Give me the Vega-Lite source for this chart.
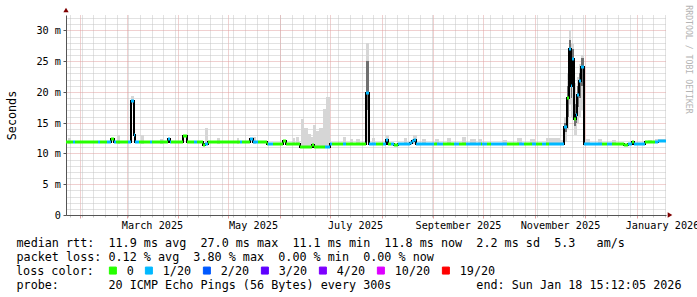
{
  "$schema": "https://vega.github.io/schema/vega-lite/v6.json",
  "width": 600,
  "height": 200,
  "autosize": {"type": "none"},
  "padding": {"left": 66, "top": 15, "right": 31, "bottom": 82},
  "background": "white",
  "config": {"view": {"stroke": null}, "font": "DejaVu Sans Mono"},
  "resolve": {"axis": {"x": "independent", "y": "independent"}},
  "datasets": {
    "median": [
      {"t0":"2025-01-23T15:12Z","t1":"2025-01-28T00:00Z","v":11.8,"loss":"0"},
      {"t0":"2025-01-28T00:00Z","t1":"2025-01-29T00:00Z","v":11.8,"loss":"1/20"},
      {"t0":"2025-01-29T00:00Z","t1":"2025-02-12T00:00Z","v":11.8,"loss":"0"},
      {"t0":"2025-02-12T00:00Z","t1":"2025-02-13T00:00Z","v":11.8,"loss":"1/20"},
      {"t0":"2025-02-13T00:00Z","t1":"2025-02-17T06:00Z","v":11.8,"loss":"0"},
      {"t0":"2025-02-17T06:00Z","t1":"2025-02-19T12:00Z","v":11.8,"loss":"1/20"},
      {"t0":"2025-02-19T12:00Z","t1":"2025-02-21T10:00Z","v":12.4,"loss":"0"},
      {"t0":"2025-02-21T10:00Z","t1":"2025-02-22T15:00Z","v":11.8,"loss":"1/20"},
      {"t0":"2025-02-22T15:00Z","t1":"2025-03-01T20:00Z","v":11.8,"loss":"0"},
      {"t0":"2025-03-01T20:00Z","t1":"2025-03-03T15:00Z","v":11.8,"loss":"1/20"},
      {"t0":"2025-03-03T15:00Z","t1":"2025-03-05T10:00Z","v":18.6,"loss":"1/20"},
      {"t0":"2025-03-05T10:00Z","t1":"2025-03-06T08:00Z","v":13.0,"loss":"1/20"},
      {"t0":"2025-03-06T08:00Z","t1":"2025-03-08T10:00Z","v":11.8,"loss":"1/20"},
      {"t0":"2025-03-08T10:00Z","t1":"2025-03-15T00:00Z","v":11.8,"loss":"0"},
      {"t0":"2025-03-15T00:00Z","t1":"2025-03-16T06:00Z","v":11.8,"loss":"1/20"},
      {"t0":"2025-03-16T06:00Z","t1":"2025-03-25T13:00Z","v":11.8,"loss":"0"},
      {"t0":"2025-03-25T13:00Z","t1":"2025-03-26T18:00Z","v":12.3,"loss":"1/20"},
      {"t0":"2025-03-26T18:00Z","t1":"2025-03-27T15:00Z","v":11.8,"loss":"1/20"},
      {"t0":"2025-03-27T15:00Z","t1":"2025-04-03T20:00Z","v":11.8,"loss":"0"},
      {"t0":"2025-04-03T20:00Z","t1":"2025-04-06T06:00Z","v":12.9,"loss":"0"},
      {"t0":"2025-04-06T06:00Z","t1":"2025-04-10T10:00Z","v":11.8,"loss":"0"},
      {"t0":"2025-04-10T10:00Z","t1":"2025-04-12T06:00Z","v":11.8,"loss":"1/20"},
      {"t0":"2025-04-12T06:00Z","t1":"2025-04-16T03:00Z","v":11.8,"loss":"0"},
      {"t0":"2025-04-16T03:00Z","t1":"2025-04-17T00:00Z","v":11.3,"loss":"0"},
      {"t0":"2025-04-17T00:00Z","t1":"2025-04-18T13:00Z","v":11.5,"loss":"1/20"},
      {"t0":"2025-04-18T13:00Z","t1":"2025-05-08T00:00Z","v":11.8,"loss":"0"},
      {"t0":"2025-05-08T00:00Z","t1":"2025-05-09T06:00Z","v":11.8,"loss":"1/20"},
      {"t0":"2025-05-09T06:00Z","t1":"2025-05-14T08:00Z","v":11.8,"loss":"0"},
      {"t0":"2025-05-14T08:00Z","t1":"2025-05-15T20:00Z","v":12.35,"loss":"1/20"},
      {"t0":"2025-05-15T20:00Z","t1":"2025-05-18T20:00Z","v":11.8,"loss":"1/20"},
      {"t0":"2025-05-18T20:00Z","t1":"2025-05-24T01:00Z","v":11.8,"loss":"0"},
      {"t0":"2025-05-24T01:00Z","t1":"2025-05-24T20:00Z","v":11.6,"loss":"0"},
      {"t0":"2025-05-24T20:00Z","t1":"2025-05-27T20:00Z","v":11.6,"loss":"1/20"},
      {"t0":"2025-05-27T20:00Z","t1":"2025-06-02T20:00Z","v":11.6,"loss":"0"},
      {"t0":"2025-06-02T20:00Z","t1":"2025-06-04T15:00Z","v":12.05,"loss":"0"},
      {"t0":"2025-06-04T15:00Z","t1":"2025-06-13T00:00Z","v":11.6,"loss":"0"},
      {"t0":"2025-06-13T00:00Z","t1":"2025-06-20T06:00Z","v":11.1,"loss":"0"},
      {"t0":"2025-06-20T06:00Z","t1":"2025-06-21T10:00Z","v":11.45,"loss":"0"},
      {"t0":"2025-06-21T10:00Z","t1":"2025-06-28T00:00Z","v":11.1,"loss":"0"},
      {"t0":"2025-06-28T00:00Z","t1":"2025-07-01T00:00Z","v":11.1,"loss":"1/20"},
      {"t0":"2025-07-01T00:00Z","t1":"2025-07-02T06:00Z","v":11.6,"loss":"1/20"},
      {"t0":"2025-07-02T06:00Z","t1":"2025-07-08T20:00Z","v":11.6,"loss":"0"},
      {"t0":"2025-07-08T20:00Z","t1":"2025-07-10T15:00Z","v":11.6,"loss":"1/20"},
      {"t0":"2025-07-10T15:00Z","t1":"2025-07-22T22:00Z","v":11.6,"loss":"0"},
      {"t0":"2025-07-22T22:00Z","t1":"2025-07-24T10:00Z","v":19.9,"loss":"1/20"},
      {"t0":"2025-07-24T10:00Z","t1":"2025-07-28T15:00Z","v":11.55,"loss":"1/20"},
      {"t0":"2025-07-28T15:00Z","t1":"2025-08-01T20:00Z","v":11.55,"loss":"0"},
      {"t0":"2025-08-01T20:00Z","t1":"2025-08-03T15:00Z","v":11.55,"loss":"1/20"},
      {"t0":"2025-08-03T15:00Z","t1":"2025-08-05T03:00Z","v":12.2,"loss":"1/20"},
      {"t0":"2025-08-05T03:00Z","t1":"2025-08-06T15:00Z","v":11.55,"loss":"0"},
      {"t0":"2025-08-06T15:00Z","t1":"2025-08-08T10:00Z","v":11.55,"loss":"1/20"},
      {"t0":"2025-08-08T10:00Z","t1":"2025-08-10T20:00Z","v":11.3,"loss":"0"},
      {"t0":"2025-08-10T20:00Z","t1":"2025-08-18T00:00Z","v":11.55,"loss":"1/20"},
      {"t0":"2025-08-18T00:00Z","t1":"2025-08-19T06:00Z","v":11.75,"loss":"1/20"},
      {"t0":"2025-08-19T06:00Z","t1":"2025-08-20T10:00Z","v":11.95,"loss":"1/20"},
      {"t0":"2025-08-20T10:00Z","t1":"2025-08-21T22:00Z","v":12.2,"loss":"1/20"},
      {"t0":"2025-08-21T22:00Z","t1":"2025-09-01T10:00Z","v":11.55,"loss":"1/20"},
      {"t0":"2025-09-01T10:00Z","t1":"2025-09-03T06:00Z","v":11.55,"loss":"0"},
      {"t0":"2025-09-03T06:00Z","t1":"2025-09-06T20:00Z","v":11.55,"loss":"1/20"},
      {"t0":"2025-09-06T20:00Z","t1":"2025-09-13T10:00Z","v":11.55,"loss":"0"},
      {"t0":"2025-09-13T10:00Z","t1":"2025-09-16T10:00Z","v":11.55,"loss":"1/20"},
      {"t0":"2025-09-16T10:00Z","t1":"2025-09-20T15:00Z","v":11.55,"loss":"0"},
      {"t0":"2025-09-20T15:00Z","t1":"2025-09-29T15:00Z","v":11.5,"loss":"1/20"},
      {"t0":"2025-09-29T15:00Z","t1":"2025-09-30T06:00Z","v":11.5,"loss":"0"},
      {"t0":"2025-09-30T06:00Z","t1":"2025-10-03T06:00Z","v":11.5,"loss":"1/20"},
      {"t0":"2025-10-03T06:00Z","t1":"2025-10-05T15:00Z","v":11.5,"loss":"0"},
      {"t0":"2025-10-05T15:00Z","t1":"2025-10-15T06:00Z","v":11.5,"loss":"1/20"},
      {"t0":"2025-10-15T06:00Z","t1":"2025-10-22T10:00Z","v":11.5,"loss":"0"},
      {"t0":"2025-10-22T10:00Z","t1":"2025-10-25T10:00Z","v":11.5,"loss":"1/20"},
      {"t0":"2025-10-25T10:00Z","t1":"2025-10-30T06:00Z","v":11.5,"loss":"0"},
      {"t0":"2025-10-30T06:00Z","t1":"2025-11-01T15:00Z","v":11.5,"loss":"1/20"},
      {"t0":"2025-11-01T15:00Z","t1":"2025-11-05T06:00Z","v":11.5,"loss":"0"},
      {"t0":"2025-11-05T06:00Z","t1":"2025-11-07T15:00Z","v":11.5,"loss":"1/20"},
      {"t0":"2025-11-07T15:00Z","t1":"2025-11-09T10:00Z","v":11.5,"loss":"0"},
      {"t0":"2025-11-09T10:00Z","t1":"2025-11-18T15:00Z","v":11.5,"loss":"1/20"},
      {"t0":"2025-11-18T15:00Z","t1":"2025-11-20T01:00Z","v":14.3,"loss":"1/20"},
      {"t0":"2025-11-20T01:00Z","t1":"2025-11-21T06:00Z","v":19.0,"loss":"0"},
      {"t0":"2025-11-21T06:00Z","t1":"2025-11-22T11:00Z","v":27.0,"loss":"1/20"},
      {"t0":"2025-11-22T11:00Z","t1":"2025-11-23T10:00Z","v":20.9,"loss":"1/20"},
      {"t0":"2025-11-23T10:00Z","t1":"2025-11-24T10:00Z","v":25.4,"loss":"1/20"},
      {"t0":"2025-11-24T10:00Z","t1":"2025-11-25T11:00Z","v":15.6,"loss":"0"},
      {"t0":"2025-11-25T11:00Z","t1":"2025-11-26T10:00Z","v":16.2,"loss":"1/20"},
      {"t0":"2025-11-26T10:00Z","t1":"2025-11-27T10:00Z","v":19.5,"loss":"1/20"},
      {"t0":"2025-11-27T10:00Z","t1":"2025-11-28T11:00Z","v":21.7,"loss":"1/20"},
      {"t0":"2025-11-28T11:00Z","t1":"2025-11-30T15:00Z","v":24.1,"loss":"1/20"},
      {"t0":"2025-11-30T15:00Z","t1":"2025-12-11T06:00Z","v":11.55,"loss":"1/20"},
      {"t0":"2025-12-11T06:00Z","t1":"2025-12-14T06:00Z","v":11.55,"loss":"0"},
      {"t0":"2025-12-14T06:00Z","t1":"2025-12-17T06:00Z","v":11.55,"loss":"1/20"},
      {"t0":"2025-12-17T06:00Z","t1":"2025-12-24T10:00Z","v":11.55,"loss":"0"},
      {"t0":"2025-12-24T10:00Z","t1":"2025-12-26T20:00Z","v":11.35,"loss":"0"},
      {"t0":"2025-12-26T20:00Z","t1":"2025-12-29T06:00Z","v":11.5,"loss":"1/20"},
      {"t0":"2025-12-29T06:00Z","t1":"2025-12-30T10:00Z","v":11.8,"loss":"0"},
      {"t0":"2025-12-30T10:00Z","t1":"2026-01-06T00:00Z","v":11.55,"loss":"1/20"},
      {"t0":"2026-01-06T00:00Z","t1":"2026-01-12T00:00Z","v":11.85,"loss":"0"},
      {"t0":"2026-01-12T00:00Z","t1":"2026-01-13T20:00Z","v":11.85,"loss":"1/20"},
      {"t0":"2026-01-13T20:00Z","t1":"2026-01-18T12:00Z","v":11.95,"loss":"1/20"}
    ],
    "smoke": [
      {"t0":"2025-01-24T20:00Z","t1":"2025-01-26T15:00Z","lo":11.6,"hi":12.55},
      {"t0":"2025-02-23T06:00Z","t1":"2025-02-24T18:00Z","lo":11.6,"hi":13.0},
      {"t0":"2025-03-03T15:00Z","t1":"2025-03-05T10:00Z","lo":17.8,"hi":19.3},
      {"t0":"2025-03-09T15:00Z","t1":"2025-03-11T10:00Z","lo":11.6,"hi":13.0},
      {"t0":"2025-03-21T00:00Z","t1":"2025-03-22T20:00Z","lo":11.6,"hi":12.3},
      {"t0":"2025-04-17T00:00Z","t1":"2025-04-18T13:00Z","lo":11.4,"hi":14.1},
      {"t0":"2025-04-24T06:00Z","t1":"2025-04-26T00:00Z","lo":11.6,"hi":12.45},
      {"t0":"2025-05-06T06:00Z","t1":"2025-05-07T10:00Z","lo":11.6,"hi":12.45},
      {"t0":"2025-05-15T20:00Z","t1":"2025-05-17T15:00Z","lo":11.6,"hi":12.6},
      {"t0":"2025-06-08T20:00Z","t1":"2025-06-10T00:00Z","lo":11.5,"hi":12.5},
      {"t0":"2025-06-10T15:00Z","t1":"2025-06-12T10:00Z","lo":11.5,"hi":12.7},
      {"t0":"2025-06-13T15:00Z","t1":"2025-06-15T10:00Z","lo":11.0,"hi":15.6},
      {"t0":"2025-06-15T10:00Z","t1":"2025-06-17T20:00Z","lo":11.0,"hi":14.2},
      {"t0":"2025-06-17T20:00Z","t1":"2025-06-19T15:00Z","lo":11.0,"hi":13.2},
      {"t0":"2025-06-19T15:00Z","t1":"2025-06-20T20:00Z","lo":11.0,"hi":12.6},
      {"t0":"2025-06-20T20:00Z","t1":"2025-06-22T15:00Z","lo":11.0,"hi":14.6},
      {"t0":"2025-06-22T15:00Z","t1":"2025-06-24T10:00Z","lo":11.0,"hi":13.6},
      {"t0":"2025-06-24T10:00Z","t1":"2025-06-26T20:00Z","lo":11.0,"hi":14.2},
      {"t0":"2025-06-26T20:00Z","t1":"2025-06-28T15:00Z","lo":11.0,"hi":17.2},
      {"t0":"2025-06-28T15:00Z","t1":"2025-06-30T18:00Z","lo":11.0,"hi":19.1},
      {"t0":"2025-06-30T18:00Z","t1":"2025-07-01T15:00Z","lo":11.0,"hi":12.5},
      {"t0":"2025-07-08T20:00Z","t1":"2025-07-10T15:00Z","lo":11.5,"hi":12.6},
      {"t0":"2025-07-13T00:00Z","t1":"2025-07-14T20:00Z","lo":11.5,"hi":12.4},
      {"t0":"2025-07-16T15:00Z","t1":"2025-07-19T00:00Z","lo":11.5,"hi":12.3},
      {"t0":"2025-07-22T22:00Z","t1":"2025-07-24T10:00Z","lo":12.0,"hi":28.0},
      {"t0":"2025-07-26T06:00Z","t1":"2025-07-28T00:00Z","lo":11.5,"hi":12.45},
      {"t0":"2025-08-03T15:00Z","t1":"2025-08-05T10:00Z","lo":11.5,"hi":13.0},
      {"t0":"2025-08-14T10:00Z","t1":"2025-08-16T06:00Z","lo":11.5,"hi":12.5},
      {"t0":"2025-08-19T20:00Z","t1":"2025-08-22T06:00Z","lo":11.5,"hi":13.0},
      {"t0":"2025-08-25T06:00Z","t1":"2025-08-27T15:00Z","lo":11.5,"hi":12.3},
      {"t0":"2025-09-02T00:00Z","t1":"2025-09-04T10:00Z","lo":11.5,"hi":12.4},
      {"t0":"2025-09-09T06:00Z","t1":"2025-09-11T15:00Z","lo":11.5,"hi":12.5},
      {"t0":"2025-09-18T06:00Z","t1":"2025-09-20T15:00Z","lo":11.5,"hi":12.6},
      {"t0":"2025-09-23T00:00Z","t1":"2025-09-26T15:00Z","lo":11.5,"hi":12.3},
      {"t0":"2025-09-27T20:00Z","t1":"2025-09-30T06:00Z","lo":11.5,"hi":12.3},
      {"t0":"2025-10-12T20:00Z","t1":"2025-10-15T06:00Z","lo":11.5,"hi":12.2},
      {"t0":"2025-10-21T06:00Z","t1":"2025-10-24T06:00Z","lo":11.5,"hi":12.55},
      {"t0":"2025-10-29T00:00Z","t1":"2025-11-01T00:00Z","lo":11.5,"hi":12.3},
      {"t0":"2025-11-07T15:00Z","t1":"2025-11-16T00:00Z","lo":11.5,"hi":12.5},
      {"t0":"2025-11-16T00:00Z","t1":"2025-11-18T15:00Z","lo":11.5,"hi":12.2},
      {"t0":"2025-11-18T15:00Z","t1":"2025-11-20T01:00Z","lo":11.8,"hi":16.0},
      {"t0":"2025-11-20T01:00Z","t1":"2025-11-21T06:00Z","lo":14.0,"hi":23.0},
      {"t0":"2025-11-21T06:00Z","t1":"2025-11-22T11:00Z","lo":18.0,"hi":30.0},
      {"t0":"2025-11-22T11:00Z","t1":"2025-11-23T10:00Z","lo":16.0,"hi":28.0},
      {"t0":"2025-11-23T10:00Z","t1":"2025-11-24T10:00Z","lo":18.0,"hi":27.8},
      {"t0":"2025-11-24T10:00Z","t1":"2025-11-25T11:00Z","lo":13.0,"hi":21.5},
      {"t0":"2025-11-25T11:00Z","t1":"2025-11-26T10:00Z","lo":13.0,"hi":19.5},
      {"t0":"2025-11-26T10:00Z","t1":"2025-11-27T10:00Z","lo":15.0,"hi":22.5},
      {"t0":"2025-11-27T10:00Z","t1":"2025-11-28T11:00Z","lo":16.0,"hi":24.5},
      {"t0":"2025-11-28T11:00Z","t1":"2025-11-30T15:00Z","lo":17.0,"hi":26.0},
      {"t0":"2025-12-01T00:00Z","t1":"2025-12-04T00:00Z","lo":11.5,"hi":12.3},
      {"t0":"2025-12-08T20:00Z","t1":"2025-12-11T06:00Z","lo":11.5,"hi":12.3},
      {"t0":"2025-12-17T06:00Z","t1":"2025-12-19T15:00Z","lo":11.5,"hi":12.2},
      {"t0":"2026-01-07T20:00Z","t1":"2026-01-10T06:00Z","lo":11.8,"hi":12.25},
      {"t0":"2026-01-12T00:00Z","t1":"2026-01-18T12:00Z","lo":11.8,"hi":12.35}
    ],
    "core": [
      {"t0":"2025-07-22T22:00Z","t1":"2025-07-24T10:00Z","lo":17.0,"hi":25.0},
      {"t0":"2025-11-18T15:00Z","t1":"2025-11-20T01:00Z","lo":13.5,"hi":15.0},
      {"t0":"2025-11-20T01:00Z","t1":"2025-11-21T06:00Z","lo":16.0,"hi":21.0},
      {"t0":"2025-11-21T06:00Z","t1":"2025-11-22T11:00Z","lo":22.0,"hi":28.5},
      {"t0":"2025-11-22T11:00Z","t1":"2025-11-23T10:00Z","lo":19.0,"hi":25.0},
      {"t0":"2025-11-23T10:00Z","t1":"2025-11-24T10:00Z","lo":21.0,"hi":27.0},
      {"t0":"2025-11-24T10:00Z","t1":"2025-11-25T11:00Z","lo":14.5,"hi":18.0},
      {"t0":"2025-11-25T11:00Z","t1":"2025-11-26T10:00Z","lo":15.0,"hi":17.5},
      {"t0":"2025-11-26T10:00Z","t1":"2025-11-27T10:00Z","lo":17.5,"hi":21.0},
      {"t0":"2025-11-27T10:00Z","t1":"2025-11-28T11:00Z","lo":19.0,"hi":23.0},
      {"t0":"2025-11-28T11:00Z","t1":"2025-11-30T15:00Z","lo":21.0,"hi":25.5}
    ]
  },
  "layer": [
    {
      "data": {"name": "smoke"},
      "mark": {"type": "rect", "color": "#d6d6d6"},
      "encoding": {
        "x": {"field": "t0", "type": "temporal",
          "scale": {"type": "utc", "round": true, "domain": [{"year":2025,"month":1,"date":23,"hours":15,"minutes":12,"seconds":5,"utc":true},{"year":2026,"month":1,"date":18,"hours":15,"minutes":12,"seconds":5,"utc":true}]},
          "axis": {"orient": "bottom", "tickCount": {"interval": "week", "step": 1}, "grid": true, "gridColor": "#c4c4c4", "gridDash": [1, 1], "gridWidth": 1, "labels": false, "domain": false, "ticks": true, "tickSize": 2, "tickColor": "#c4c4c4", "title": null}},
        "x2": {"field": "t1"},
        "y": {"field": "lo", "type": "quantitative",
          "scale": {"domain": [0, 32.5], "nice": false, "zero": false, "round": true},
          "axis": {"orient": "left", "values": [1,2,3,4,6,7,8,9,11,12,13,14,16,17,18,19,21,22,23,24,26,27,28,29,31,32], "grid": true, "gridColor": "#c4c4c4", "gridDash": [1, 1], "labels": false, "ticks": false, "domain": false, "title": null}},
        "y2": {"field": "hi"}
      }
    },
    {
      "data": {"name": "core"},
      "mark": {"type": "rect", "color": "#707070"},
      "encoding": {
        "x": {"field": "t0", "type": "temporal",
          "scale": {"type": "utc", "round": true, "domain": [{"year":2025,"month":1,"date":23,"hours":15,"minutes":12,"seconds":5,"utc":true},{"year":2026,"month":1,"date":18,"hours":15,"minutes":12,"seconds":5,"utc":true}]},
          "axis": {"orient": "bottom", "tickCount": {"interval": "month", "step": 1}, "grid": true, "gridColor": "#e0a0a0", "gridDash": [1, 1], "gridWidth": 1, "labels": false, "domain": false, "ticks": true, "tickSize": 3, "tickColor": "#e0a0a0", "title": null}},
        "x2": {"field": "t1"},
        "y": {"field": "lo", "type": "quantitative",
          "scale": {"domain": [0, 32.5], "nice": false, "zero": false, "round": true},
          "axis": {"orient": "left", "values": [0, 5, 10, 15, 20, 25, 30], "grid": true, "gridColor": "#e0a0a0", "gridDash": [1, 1],
            "labelExpr": "datum.value == 0 ? '0\u00a0\u00a0' : datum.value + '\u00a0m'",
            "labelFont": "DejaVu Sans Mono", "labelFontSize": 10.2, "labelColor": "#000", "labelPadding": 2.5,
            "ticks": true, "tickSize": 3, "tickColor": "#555555", "domain": true, "domainColor": "#555555",
            "title": "Seconds", "titleFont": "DejaVu Sans Mono", "titleFontSize": 11.75, "titleFontWeight": "normal", "titleColor": "#000",
            "titleAngle": 270, "titleX": -55, "titleY": 100, "titleAlign": "center", "titleBaseline": "middle"}},
        "y2": {"field": "hi"}
      }
    },
    {
      "data": {"name": "median"},
      "mark": {"type": "line", "interpolate": "step-after", "color": "#000000", "strokeWidth": 2},
      "encoding": {
        "x": {"field": "t0", "type": "temporal",
          "scale": {"type": "utc", "round": true, "domain": [{"year":2025,"month":1,"date":23,"hours":15,"minutes":12,"seconds":5,"utc":true},{"year":2026,"month":1,"date":18,"hours":15,"minutes":12,"seconds":5,"utc":true}]},
          "axis": {"orient": "bottom",
            "values": [{"year":2025,"month":3,"date":16,"utc":true},{"year":2025,"month":5,"date":16,"utc":true},{"year":2025,"month":7,"date":16,"utc":true},{"year":2025,"month":9,"date":16,"utc":true},{"year":2025,"month":11,"date":16,"utc":true},{"year":2026,"month":1,"date":16,"utc":true}],
            "labelExpr": "utcFormat(datum.value, '%B\u00a0%Y')",
            "labelFont": "DejaVu Sans Mono", "labelFontSize": 10.2, "labelColor": "#000", "labelBaseline": "alphabetic", "labelPadding": 13,
            "labelFlush": false, "labelOverlap": false, "labelBound": false,
            "ticks": false, "grid": false, "domain": true, "domainColor": "#555555",
            "title": ["median\u00a0rtt:\u00a0\u00a011.9\u00a0ms\u00a0avg\u00a0\u00a027.0\u00a0ms\u00a0max\u00a0\u00a011.1\u00a0ms\u00a0min\u00a0\u00a011.8\u00a0ms\u00a0now\u00a0\u00a02.2\u00a0ms\u00a0sd\u00a0\u00a05.3\u00a0\u00a0\u00a0am/s", "packet\u00a0loss:\u00a00.12\u00a0%\u00a0avg\u00a0\u00a03.80\u00a0%\u00a0max\u00a0\u00a00.00\u00a0%\u00a0min\u00a0\u00a00.00\u00a0%\u00a0now"],
            "titleFont": "DejaVu Sans Mono", "titleFontSize": 11.75, "titleFontWeight": "normal", "titleColor": "#000",
            "titleAlign": "left", "titleAnchor": "start", "titleBaseline": "alphabetic", "titleX": -50, "titleY": 31, "titleLineHeight": 14}},
        "y": {"field": "v", "type": "quantitative",
          "scale": {"domain": [0, 32.5], "nice": false, "zero": false, "round": true},
          "axis": {"orient": "right", "labels": false, "ticks": false, "domain": false, "grid": false,
            "title": "RRDTOOL\u00a0/\u00a0TOBI\u00a0OETIKER", "titleFont": "DejaVu Sans Mono", "titleFontSize": 8.2, "titleFontWeight": "normal", "titleColor": "#b4b4b4",
            "titleAngle": 90, "titleX": 21.5, "titleY": 44, "titleAlign": "center", "titleBaseline": "middle"}}
      }
    },
    {
      "data": {"name": "median"},
      "mark": {"type": "rule", "strokeWidth": 3, "strokeCap": "butt"},
      "encoding": {
        "x": {"field": "t0", "type": "temporal",
          "scale": {"type": "utc", "round": true, "domain": [{"year":2025,"month":1,"date":23,"hours":15,"minutes":12,"seconds":5,"utc":true},{"year":2026,"month":1,"date":18,"hours":15,"minutes":12,"seconds":5,"utc":true}]},
          "axis": {"orient": "bottom", "labels": false, "ticks": false, "domain": false, "grid": false,
            "title": "probe:\u00a0\u00a0\u00a0\u00a0\u00a0\u00a0\u00a020\u00a0ICMP\u00a0Echo\u00a0Pings\u00a0(56\u00a0Bytes)\u00a0every\u00a0300s\u00a0\u00a0\u00a0\u00a0\u00a0\u00a0\u00a0\u00a0\u00a0\u00a0\u00a0\u00a0end:\u00a0Sun\u00a0Jan\u00a018\u00a015:12:05\u00a02026",
            "titleFont": "DejaVu Sans Mono", "titleFontSize": 11.75, "titleFontWeight": "normal", "titleColor": "#000",
            "titleAlign": "left", "titleAnchor": "start", "titleBaseline": "alphabetic", "titleX": -50, "titleY": 73}},
        "x2": {"field": "t1"},
        "y": {"field": "v", "type": "quantitative", "scale": {"domain": [0, 32.5], "nice": false, "zero": false, "round": true}, "axis": null},
        "color": {"field": "loss", "type": "nominal",
          "scale": {"domain": ["0", "1/20", "2/20", "3/20", "4/20", "10/20", "19/20"], "range": ["#26ff00", "#00b8ff", "#0059ff", "#5e00ff", "#7e00ff", "#dd00ff", "#ff0000"]},
          "legend": {"orient": "none", "legendX": -50, "legendY": 249.5, "direction": "horizontal",
            "title": "loss\u00a0color:", "titleOrient": "left", "titleBaseline": "middle", "titlePadding": 13,
            "titleFont": "DejaVu Sans Mono", "titleFontSize": 11.75, "titleFontWeight": "normal", "titleColor": "#000",
            "labelFont": "DejaVu Sans Mono", "labelFontSize": 11.75, "labelColor": "#000", "labelOffset": 8, "columnPadding": 9, "padding": 0,
            "symbolType": "square", "symbolSize": 49, "symbolStrokeWidth": 1, "symbolStrokeColor": "#000",
            "encode": {"symbols": {"update": {"fill": {"scale": "color", "field": "value"}, "stroke": {"value": "#000000"}, "strokeWidth": {"value": 1}, "opacity": {"value": 1}, "fillOpacity": {"value": 1}}}}}}
      }
    },
    {
      "data": {"values": [{}]},
      "mark": {"type": "point", "shape": "triangle-up", "filled": true, "color": "#7f0000", "size": 28, "opacity": 1},
      "encoding": {
        "x": {"datum": {"year":2025,"month":1,"date":23,"hours":15,"minutes":12,"seconds":5,"utc":true}, "type": "temporal", "axis": null},
        "y": {"datum": 33.3, "type": "quantitative", "axis": null}
      }
    },
    {
      "data": {"values": [{}]},
      "mark": {"type": "point", "shape": "triangle-right", "filled": true, "color": "#7f0000", "size": 28, "opacity": 1},
      "encoding": {
        "x": {"datum": {"year":2026,"month":1,"date":21,"hours":8,"utc":true}, "type": "temporal", "axis": null},
        "y": {"datum": 0, "type": "quantitative", "axis": null}
      }
    }
  ]
}
